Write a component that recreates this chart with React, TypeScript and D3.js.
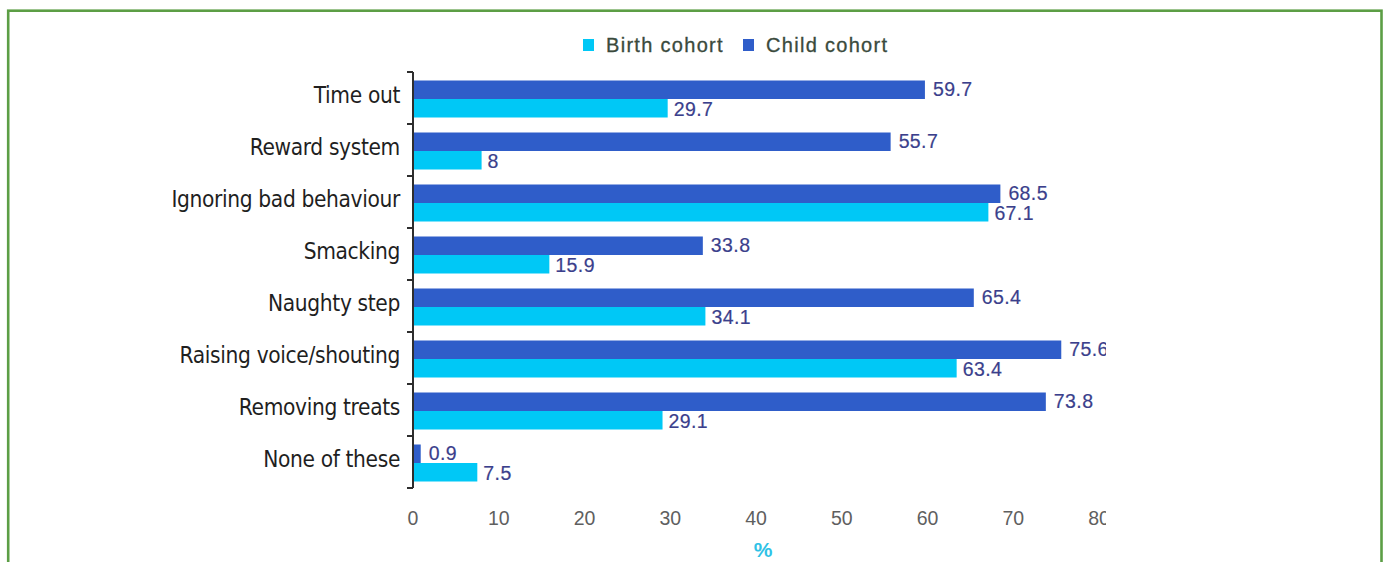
import * as d3 from "d3";
import { useEffect, useRef } from "react";

const categories = [
  "Time out",
  "Reward system",
  "Ignoring bad behaviour",
  "Smacking",
  "Naughty step",
  "Raising voice/shouting",
  "Removing treats",
  "None of these",
];
const childCohort = [59.7, 55.7, 68.5, 33.8, 65.4, 75.6, 73.8, 0.9];
const birthCohort = [29.7, 8, 67.1, 15.9, 34.1, 63.4, 29.1, 7.5];
const seriesNames = ["Child cohort", "Birth cohort"];
const xTicks = [0, 10, 20, 30, 40, 50, 60, 70, 80];

const DARK = "#2f5dc9";
const LIGHT = "#00c8f6";
const LABEL = "#3b3f8c";

export default function App() {
  const svgRef = useRef<SVGSVGElement>(null);

  useEffect(() => {
    if (!svgRef.current) return;
    const svg = d3.select(svgRef.current);
    svg.selectAll("*").remove();

    const H = 562;

    // green frame
    svg
      .append("rect")
      .attr("x", 8.2)
      .attr("y", 10.7)
      .attr("width", 1373.3)
      .attr("height", 600)
      .attr("fill", "none")
      .attr("stroke", "#5c9e45")
      .attr("stroke-width", 2.6);

    // the chart picture is cut off on the right
    svg
      .append("defs")
      .append("clipPath")
      .attr("id", "chart-clip")
      .append("rect")
      .attr("x", 0)
      .attr("y", 0)
      .attr("width", 1106)
      .attr("height", H);

    const g = svg.append("g").attr("clip-path", "url(#chart-clip)");

    const x = d3.scaleLinear().domain([0, 80]).range([413, 1099]);
    const y = d3.scaleBand<string>().domain(categories).range([72, 488]);
    const sub = d3.scaleBand<string>().domain(seriesNames).range([8.5, 45.5]);

    const rows = categories.map((c, i) => ({
      cat: c,
      child: childCohort[i],
      birth: birthCohort[i],
    }));

    // bars
    rows.forEach((r) => {
      const y0 = y(r.cat) ?? 0;
      g.append("rect")
        .attr("x", x(0))
        .attr("y", y0 + (sub("Child cohort") ?? 0))
        .attr("width", x(r.child) - x(0))
        .attr("height", sub.bandwidth())
        .attr("fill", DARK);
      g.append("rect")
        .attr("x", x(0))
        .attr("y", y0 + (sub("Birth cohort") ?? 0))
        .attr("width", x(r.birth) - x(0))
        .attr("height", sub.bandwidth())
        .attr("fill", LIGHT);
    });

    // value labels
    const labelFont = "'Liberation Sans', Arial, sans-serif";
    const valueLabel = (lx: number, ly: number, v: number) =>
      g
        .append("text")
        .attr("x", lx)
        .attr("y", ly)
        .attr("dominant-baseline", "central")
        .attr("fill", LABEL)
        .attr("stroke", LABEL)
        .attr("stroke-width", 0.2)
        .style("font-family", labelFont)
        .style("font-size", "19.5px")
        .style("letter-spacing", "0.4px")
        .text(String(v));
    rows.forEach((r) => {
      const y0 = y(r.cat) ?? 0;
      const half = sub.bandwidth() / 2;
      valueLabel(x(r.child) + 8, y0 + (sub("Child cohort") ?? 0) + half - 1, r.child);
      valueLabel(x(r.birth) + 6, y0 + (sub("Birth cohort") ?? 0) + half + 1, r.birth);
    });

    // category axis
    const axis = g.append("g").attr("transform", `translate(${x(0)},0)`);
    axis
      .append("line")
      .attr("x1", 0)
      .attr("x2", 0)
      .attr("y1", 72)
      .attr("y2", 488)
      .attr("stroke", "#2e2e2e")
      .attr("stroke-width", 2);
    const bounds = categories.map((c) => y(c) ?? 0).concat([488]);
    axis
      .selectAll("line.tick")
      .data(bounds)
      .enter()
      .append("line")
      .attr("class", "tick")
      .attr("x1", -6)
      .attr("x2", 0)
      .attr("y1", (d) => d)
      .attr("y2", (d) => d)
      .attr("stroke", "#2e2e2e")
      .attr("stroke-width", 2);

    g.selectAll("text.cat")
      .data(categories)
      .enter()
      .append("text")
      .attr("class", "cat")
      .attr("x", 400)
      .attr("y", (d) => (y(d) ?? 0) + y.bandwidth() / 2 - 3)
      .attr("dominant-baseline", "central")
      .attr("text-anchor", "end")
      .attr("fill", "#1f1f1f")
      .style("font-family", "'DejaVu Sans', sans-serif")
      .style("font-stretch", "condensed")
      .style("font-size", "22.5px")
      .style("letter-spacing", "-0.35px")
      .text((d) => d);

    // value axis labels
    g.selectAll("text.xt")
      .data(xTicks)
      .enter()
      .append("text")
      .attr("class", "xt")
      .attr("x", (d) => x(d))
      .attr("y", 518)
      .attr("dominant-baseline", "central")
      .attr("text-anchor", "middle")
      .attr("fill", "#5f5f5f")
      .style("font-family", labelFont)
      .style("font-size", "19.5px")
      .text((d) => String(d));

    g.append("text")
      .attr("x", x(40) + 7)
      .attr("y", 549)
      .attr("dominant-baseline", "central")
      .attr("text-anchor", "middle")
      .attr("fill", "#2fc2e6")
      .style("font-family", labelFont)
      .style("font-size", "21px")
      .style("font-weight", "bold")
      .text("%");

    // legend
    const legend = [
      { name: "Birth cohort", color: LIGHT, x: 583 },
      { name: "Child cohort", color: DARK, x: 743 },
    ];
    legend.forEach((l) => {
      g.append("rect")
        .attr("x", l.x)
        .attr("y", 39)
        .attr("width", 11)
        .attr("height", 12)
        .attr("fill", l.color);
      g.append("text")
        .attr("x", l.x + 23)
        .attr("y", 45)
        .attr("dominant-baseline", "central")
        .attr("fill", "#3a4a3c")
        .attr("stroke", "#3a4a3c")
        .attr("stroke-width", 0.3)
        .style("font-family", labelFont)
        .style("font-size", "20px")
        .style("letter-spacing", "1.3px")
        .text(l.name);
    });
  }, []);

  return (
    <div style={{ position: "absolute", left: 0, top: 0 }}>
      <svg
        ref={svgRef}
        width={1384}
        height={562}
        style={{ display: "block", background: "#fff" }}
      />
    </div>
  );
}
